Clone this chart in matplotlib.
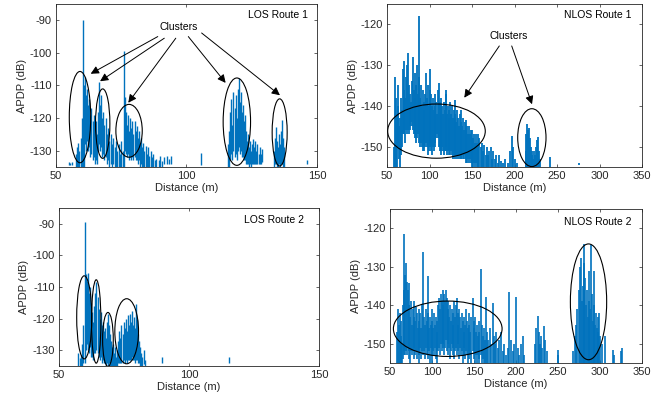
import matplotlib
matplotlib.use('Agg')
import matplotlib.pyplot as plt
from matplotlib.patches import Ellipse

plt.rcParams['font.family'] = ['Liberation Sans', 'DejaVu Sans']
plt.rcParams['font.size'] = 8
plt.rcParams['axes.unicode_minus'] = False

BLUE = '#0072BD'
GRAY = '#262626'

# ---- LOS Route 1: distance (m), spike top (dB), spike bottom (dB) ----
los1_d = [54.8, 55.5, 56.3, 57.5, 58.0, 58.5, 59.0, 59.5, 60.0, 60.4, 60.8, 61.2, 61.6, 62.0,
          62.4, 62.8, 63.2, 63.6, 64.0, 64.4, 64.8, 65.2, 65.6, 66.0, 66.5, 66.9, 67.3, 67.7,
          68.1, 68.5, 69.0, 69.5, 70.0, 70.5, 71.0, 71.5, 72.0, 72.5, 73.0, 73.5, 74.0, 74.5,
          75.0, 75.6, 76.1, 76.5, 76.9, 77.3, 77.7, 78.1, 78.5, 78.9, 79.3, 79.7, 80.1, 80.5,
          80.9, 81.3, 81.7, 82.1, 82.5, 82.9, 83.3, 83.8, 84.3, 84.8, 85.3, 85.8, 86.3, 86.8,
          87.3, 87.8, 88.5, 89.3, 90.0, 90.8, 91.5, 92.4, 93.2, 94.0, 105.6,
          116.0, 116.4, 116.8, 117.2, 117.6, 118.0, 118.4, 118.8, 119.2, 119.6, 120.0, 120.4,
          120.8, 121.2, 121.6, 122.0, 122.4, 122.8, 123.2, 123.6, 124.0, 124.4, 124.8, 125.2,
          125.6, 126.0, 126.4, 126.8, 127.2, 127.6, 128.0, 128.4, 128.8,
          133.4, 133.8, 134.2, 134.6, 135.0, 135.4, 135.8, 136.2, 136.7, 137.1, 137.5, 146.0]
los1_top = [-133.5, -133.8, -133.6, -131, -129, -127.5, -130, -126, -120, -90, -110, -107.5, -113, -111,
            -116, -114, -119, -117, -121, -119, -123, -121, -125, -118, -108.8, -116, -113, -120,
            -118, -122, -120, -125, -123, -127, -125, -128, -126, -129, -127, -130, -128, -131,
            -127, -130, -99.5, -113.4, -118, -122, -119, -124, -120, -123, -121, -125, -121, -124,
            -122.5, -126, -124, -128, -126, -129, -127.5, -130, -128.5, -131, -129, -131.5, -130, -132,
            -131, -133, -132.5, -133, -131.5, -133.2, -132, -131.5, -132.5, -131.5, -130.7,
            -128, -124, -118, -114, -122, -112, -117, -113, -120, -111, -107.8, -115,
            -112, -118, -116, -121, -119, -124, -127, -125, -129, -127, -130, -128,
            -126.5, -129, -127, -130, -128, -131, -129, -131, -129.5,
            -130, -126, -122.6, -127, -129, -125, -128, -124, -120.5, -126, -129, -133]
los1_bot = [-134.5, -134.5, -134.5, -140, -140, -140, -140, -140, -140, -140, -135, -128, -130, -127,
            -130, -129, -132, -131, -133, -132, -134, -133, -134, -130, -128, -130, -129, -132,
            -131, -133, -132, -134, -133, -135, -134, -135, -134, -135, -135, -135, -135, -135,
            -135, -135, -135, -130, -131, -132, -131, -133, -132, -133, -132, -133, -132, -133,
            -133, -134, -133, -135, -134, -135, -135, -135, -135, -135, -135, -135, -135, -135,
            -135, -135, -135, -135, -135, -135, -134, -134, -134, -134, -134.5,
            -135, -135, -133, -131, -133, -130, -132, -131, -133, -130, -129, -131,
            -130, -132, -132, -133, -133, -134, -134, -134, -135, -134, -135, -134,
            -134, -134, -134, -134, -134, -134, -134, -134, -133.5,
            -135, -134, -134, -135, -135, -134, -135, -134, -134, -135, -135, -134]

# ---- NLOS Route 1 ----
nlos1_d = [58.5, 59.5, 60.5, 61.5, 62.5, 63.5, 64.5, 65.5, 66.5, 67.5, 68.5, 69.5, 70.5, 71.5,
           72.5, 73.5, 74.5, 75.5, 76.5, 77.5, 78.5, 79.5, 80.5, 81.5, 82.5, 83.5, 84.5, 85.5,
           86.5, 87.3, 88.0, 89.0, 90.0, 91.0, 92.0, 93.0, 94.0, 95.0, 96.0, 97.0, 98.0, 99.0,
           100.0, 101.0, 102.0, 103.0, 104.0, 105.0, 106.0, 107.0, 108.0, 109.0, 110.0, 111.0,
           112.0, 113.0, 114.0, 115.0, 116.0, 117.0, 118.0, 119.0, 119.8, 120.5, 121.5, 122.5,
           123.5, 124.5, 125.5, 126.5, 127.5, 128.5, 129.5, 130.5, 131.5, 132.5, 133.5, 134.5,
           135.5, 136.5, 137.5, 138.5, 139.5, 140.5, 141.5, 142.5, 143.5, 144.5, 145.5, 146.5,
           147.5, 148.5, 149.5, 150.5, 151.5, 152.5, 153.5, 154.5, 155.5, 156.5, 157.5, 158.5,
           160, 161.5, 163, 164.5, 166, 167.5, 169, 170.5, 172, 173.5, 175, 176.5, 178, 180,
           182, 184, 186, 189, 192, 195, 196.5, 198, 200, 203,
           213, 214, 215, 216, 217, 218, 219, 220, 221, 222, 223, 224, 225, 226.5, 227.5,
           228.5, 230, 242, 276]
nlos1_top = [-150, -133, -138, -142, -135, -140, -145, -143, -138, -141, -131, -136, -129, -138,
             -133, -130, -127, -135, -140, -137, -139, -134, -128, -136, -132, -138, -135, -130,
             -137, -118, -133, -138, -135, -140, -136, -139, -141, -137, -132, -138, -135, -140,
             -136, -131, -137, -140, -138, -141, -137, -140, -139, -142, -136, -134.5,
             -139, -141, -138, -140, -142, -139, -141, -136, -137, -142, -140, -143,
             -141, -139, -142, -140, -143, -141, -138.5, -142, -144, -141, -143, -145,
             -142, -144, -141, -145, -143, -146, -144, -146, -143.5, -145, -147, -145,
             -147, -146, -148, -146, -148, -147, -149, -147, -149, -147, -150, -148,
             -150, -149, -151, -149.5, -152, -150, -152, -151, -150, -153, -151, -153, -152, -154,
             -152, -153.5, -154, -153, -154, -151, -147.5, -150, -153, -154,
             -151, -147, -144.5, -146, -145.5, -148, -150, -152, -151, -153, -151, -152, -150, -148.5, -147.6,
             -151, -153, -152.5, -154]
nlos1_bot = [-160, -160, -155, -158, -150, -149, -153, -160, -152, -150, -147, -146, -147, -149,
             -146, -147, -146, -147, -146, -145, -144, -145, -146, -147, -146, -148, -149, -148,
             -147, -146, -149, -150, -149, -150, -151, -150, -151, -150, -149, -150, -152, -151,
             -150, -149, -151, -152, -150, -151, -150, -149, -148, -147, -148, -150,
             -151, -152, -151, -150, -151, -152, -151, -150, -151, -152, -151, -152,
             -151, -152, -151, -152, -153, -152, -152, -153, -152, -153, -152, -153,
             -152, -153, -153, -152, -153, -153, -152, -154, -153, -154, -153, -154,
             -153, -154, -155, -154, -155, -154, -155, -154, -156, -155, -156, -156,
             -156, -157, -156, -157, -157, -157, -157, -157, -157, -157, -157, -157, -157, -157,
             -157, -157, -157, -157, -157, -157, -157, -157, -157, -157,
             -157, -157, -157, -157, -157, -157, -157, -157, -157, -157, -157, -157, -157, -157, -157,
             -157, -157, -155, -154.6]

# ---- LOS Route 2 ----
los2_d = [57.5, 58.0, 58.5, 59.0, 59.5, 60.1, 60.5, 60.9, 61.3, 61.7, 62.1, 62.5, 62.9, 63.3,
          63.7, 64.1, 64.5, 64.9, 65.3, 65.7, 66.1, 66.5, 66.9, 67.3, 67.7, 68.1, 68.5, 68.9,
          69.3, 69.7, 70.1, 70.5, 70.9, 71.3, 71.7, 72.1, 72.5, 72.9, 73.3, 73.7, 74.1, 74.5,
          74.9, 75.3, 75.7, 76.1, 76.5, 76.9, 77.3, 77.7, 78.1, 78.5, 78.9, 79.3, 79.7, 80.1,
          80.5, 80.9, 81.3, 81.7, 82.1, 82.7, 83.3, 89.8, 115.5]
los2_top = [-131, -132.5, -131.5, -128, -122, -89.5, -106, -108, -105.5, -112, -110, -115, -118, -121,
            -116, -112, -108.5, -113, -117, -120, -118, -122, -121, -124, -123, -126, -121, -118.5,
            -122, -125, -127, -129, -128, -131, -129, -132, -130, -127, -124, -126, -122, -125,
            -121, -123, -120, -124, -119, -122, -118.5, -121, -117.5, -122, -119.5, -123, -115.5, -120,
            -125, -127, -129, -131, -132, -130, -133, -132, -132.2]
los2_bot = [-136, -136, -136, -136, -134, -134, -130, -128, -130, -131, -129, -132, -132, -133,
            -131, -131, -130, -131, -132, -133, -132, -134, -133, -134, -134, -135, -134, -136,
            -134, -135, -135, -135, -135, -135, -135, -135, -135, -134, -134, -134, -134, -134,
            -133, -134, -133, -134, -133, -133, -133, -133, -132, -133, -133, -134, -133, -133,
            -134, -134, -135, -135, -135, -134.5, -135, -134, -134]

# ---- NLOS Route 2 ----
nlos2_d = [58.5, 59.5, 60.5, 61.5, 62.5, 63.5, 64.5, 65.5, 66.5, 67.2, 68.0, 69.0, 70.0, 71.0,
           72.0, 73.0, 74.0, 75.0, 76.0, 77.0, 78.0, 79.0, 80.0, 81.0, 82.0, 83.0, 84.0, 85.0,
           86.0, 87.0, 88.0, 89.7, 90.5, 91.5, 92.5, 93.5, 94.8, 95.5, 96.5, 97.5, 98.5, 99.5,
           100.5, 101.5, 102.5, 103.5, 104.5, 105.5, 106.5, 107.5, 108.5, 109.5, 110.5, 111.5,
           112.5, 113.5, 114.5, 115.5, 116.5, 117.5, 118.5, 119.5, 120.5, 121.5, 122.5, 123.5,
           124.5, 125.5, 126.5, 127.5, 128.5, 129.5, 130.5, 131.5, 132.5, 133.5, 134.5, 135.5,
           136.5, 137.5, 138.5, 139.5, 140.5, 141.5, 142.5, 143.5, 144.5, 145.5, 146.5, 148.4,
           149.5, 150.5, 151.5, 152.5, 153.5, 154.5, 155.5, 156.5, 158.3, 159.5, 160.5, 161.5,
           162.5, 164.3, 165.5, 167, 168.5, 170, 172.2, 173.5, 175, 176.5, 178, 180, 182, 184,
           186, 188, 190, 192, 194, 196, 198, 200, 202, 204, 206, 208, 210,
           222.5, 224, 225.8, 227, 228.5, 230, 231.5, 233.7, 235, 236.5, 249.6, 250.5,
           268, 270, 271.5, 273, 274.5, 276, 277.4, 278.5, 279.5, 280.5, 281.3, 282.3, 283.3,
           284.3, 285.3, 286.3, 287.3, 288.3, 289.3, 290.3, 291.3, 292.3, 293.0, 294.0, 295.0,
           296.0, 297.0, 298.0, 299.0, 300.5, 302, 306, 315, 316.5, 325, 326.5]
nlos2_top = [-147, -141, -145, -142, -148, -144, -150, -140, -136, -121.6, -132, -129, -134, -136,
             -134.3, -140, -143, -139, -145, -141, -143, -139, -144, -140.5, -142, -146, -141, -144,
             -142, -146, -140, -126.2, -143, -145, -141, -144, -132.5, -142, -146, -143, -145, -141,
             -144, -146, -142, -145, -143, -147, -144, -140, -138, -141, -137, -139,
             -136, -140, -137, -139, -136, -138, -141, -139, -143, -140, -144, -141,
             -145, -142, -139, -143, -140, -138, -142, -145, -141, -143, -146, -142,
             -144, -147, -143, -145, -141, -144, -146, -142, -145, -147, -143, -138.2,
             -144, -146, -143, -147, -145, -148, -144, -147, -130.6, -145, -148, -146,
             -149, -137.8, -147, -149, -146, -150, -139.4, -148, -150, -147, -151, -149, -147, -152,
             -150, -153, -151, -136.5, -149, -152, -150, -137.8, -151, -153, -150, -148, -153,
             -150, -146, -142.9, -147, -150, -148, -151, -145.5, -149, -152, -151.5, -153,
             -152, -148, -145, -141, -136, -130, -127.8, -139, -135, -129, -124.1, -133, -140,
             -136, -143, -139, -131, -141, -124.3, -137, -144, -140, -131, -145, -142,
             -146, -143, -147, -142, -148, -150, -148, -151.5, -153, -152, -151]
nlos2_bot = [-160, -160, -155, -160, -158, -156, -160, -154, -153, -152, -153, -152, -153, -151,
             -154, -152, -155, -152, -153, -152, -154, -151, -153, -152, -154, -152, -155, -153,
             -151, -154, -152, -153, -152, -154, -151, -153, -152, -154, -152, -155, -151, -153,
             -160, -152, -153, -151, -154, -152, -155, -152, -151, -153, -150, -152,
             -151, -150, -153, -151, -149, -152, -150, -153, -151, -154, -152, -150,
             -153, -151, -154, -152, -151, -153, -150, -152, -154, -151, -153, -152,
             -155, -153, -151, -154, -152, -153, -155, -152, -154, -153, -155, -152,
             -154, -152, -155, -153, -155, -153, -154, -155, -153, -155, -154, -156,
             -155, -156, -160, -156, -160, -157, -160, -157, -160, -157, -160, -160, -160, -160,
             -160, -160, -160, -160, -160, -160, -160, -160, -160, -160, -160, -160, -160,
             -160, -160, -160, -160, -160, -160, -160, -160, -160, -160, -160, -160,
             -160, -160, -160, -160, -160, -160, -160, -160, -160, -160, -160, -160, -160,
             -160, -160, -160, -160, -160, -160, -160, -160, -160, -160, -160, -160,
             -160, -160, -160, -160, -160, -160, -160, -160, -160, -160, -160]

# ellipses: (centre distance, centre dB, width m, height dB)
los1_ell = [(59.2, -119.7, 8.2, 28.0), (67.9, -121.7, 5.5, 21.3), (78.0, -123.9, 10.1, 16.2),
            (119.3, -121.1, 10.5, 26.8), (135.7, -124.4, 5.75, 20.6)]
nlos1_ell = [(108.2, -146.2, 114.8, 13.3), (220.4, -147.8, 33.3, 14.2)]
los2_ell = [(59.8, -119.6, 5.8, 26.3), (64.4, -120.9, 3.6, 26.4), (68.9, -126.6, 4.1, 17.1),
            (76.1, -124.0, 9.1, 20.6)]
nlos2_ell = [(118.7, -146.1, 129.4, 14.4), (286.3, -139.1, 43.2, 30.1)]

# arrows: (start x, start y, head x, head y)
los1_arrows = [(89.0, -95.0, 63.3, -106.4), (91.5, -95.5, 66.9, -108.7), (95.9, -95.5, 77.7, -115.3),
               (100.7, -95.0, 115.0, -109.2), (105.8, -93.9, 135.8, -113.0)]
nlos1_arrows = [(182.1, -125.3, 140.9, -138.0), (196.7, -125.3, 220.6, -139.6)]

fig = plt.figure(figsize=(6.72, 4.05), dpi=100)
ax1 = fig.add_axes([0.0833, 0.5877, 0.3884, 0.4025])
ax2 = fig.add_axes([0.5759, 0.5877, 0.3795, 0.4025])
ax3 = fig.add_axes([0.0874, 0.0963, 0.3874, 0.390])
ax4 = fig.add_axes([0.5804, 0.1037, 0.3750, 0.380])

panels = [
    (ax1, los1_d, los1_top, los1_bot, los1_ell, (50, 150), (-135, -85), [-130, -120, -110, -100, -90], 'LOS Route 1', (0.966, 0.93), 1.0),
    (ax2, nlos1_d, nlos1_top, nlos1_bot, nlos1_ell, (50, 350), (-155, -115), [-150, -140, -130, -120], 'NLOS Route 1', (0.957, 0.933), 1.3),
    (ax3, los2_d, los2_top, los2_bot, los2_ell, (50, 150), (-135, -85), [-130, -120, -110, -100, -90], 'LOS Route 2', (0.941, 0.926), 1.0),
    (ax4, nlos2_d, nlos2_top, nlos2_bot, nlos2_ell, (50, 350), (-155, -115), [-150, -140, -130, -120], 'NLOS Route 2', (0.96, 0.918), 1.2),
]

for ax, d, top, bot, ells, xl, yl, yt, name, tpos, lw in panels:
    ax.vlines(d, bot, top, color=BLUE, lw=lw)
    for cx, cy, w, h in ells:
        ax.add_patch(Ellipse((cx, cy), w, h, fill=False, ec='black', lw=0.8, zorder=3))
    ax.set_xlim(*xl)
    ax.set_ylim(*yl)
    ax.set_yticks(yt)
    ax.set_xlabel('Distance (m)', color=GRAY, labelpad=1)
    ax.set_ylabel('APDP (dB)', color=GRAY, labelpad=2)
    ax.tick_params(direction='in', length=2.5, width=0.5, top=True, right=True,
                   colors=GRAY, labelsize=8, pad=3)
    for sp in ax.spines.values():
        sp.set_linewidth(0.6)
        sp.set_color(GRAY)
    ax.text(tpos[0], tpos[1], name, transform=ax.transAxes, ha='right', va='center',
            fontsize=7.5, color='black')

ax1.set_xticks([50, 100, 150])
ax3.set_xticks([50, 100, 150])
ax2.set_xticks([50, 100, 150, 200, 250, 300, 350])
ax4.set_xticks([50, 100, 150, 200, 250, 300, 350])

ax1.text(96.9, -92.1, 'Clusters', ha='center', va='center', fontsize=7.5)
ax2.text(193.2, -122.8, 'Clusters', ha='center', va='center', fontsize=7.5)
for ax, arrows in [(ax1, los1_arrows), (ax2, nlos1_arrows)]:
    for x0, y0, x1, y1 in arrows:
        ax.annotate('', xy=(x1, y1), xytext=(x0, y0),
                    arrowprops=dict(arrowstyle='-|>', color='black', lw=0.7,
                                    mutation_scale=12, shrinkA=0, shrinkB=0))

fig.savefig('out.png', dpi=100)
